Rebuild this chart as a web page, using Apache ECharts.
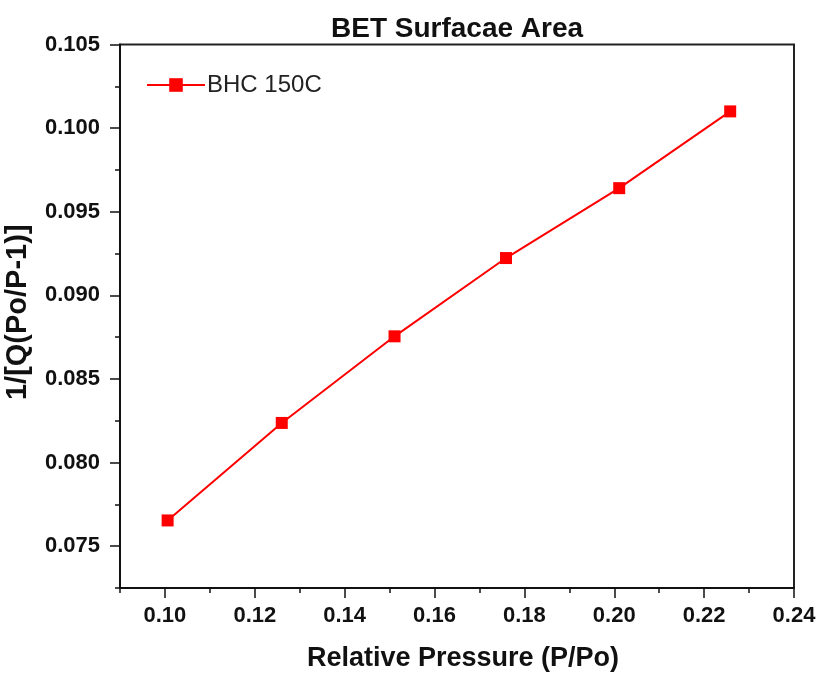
<!DOCTYPE html>
<html>
<head>
<meta charset="utf-8">
<script src="https://cdn.jsdelivr.net/npm/echarts@6/dist/echarts.min.js"></script>
<style>
  html, body { margin: 0; padding: 0; background: #fff; }
  #chart { width: 821px; height: 679px; }
</style>
</head>
<body>
<div id="chart"></div>
<script>
// values
const seriesName = 'BHC 150C'
const pressure = [0.1006, 0.1260, 0.1511, 0.1759, 0.2011, 0.2258]
const invQ = [0.07654, 0.08237, 0.08755, 0.09223, 0.09641, 0.1010]

// tick positions
const xMajor = [0.10, 0.12, 0.14, 0.16, 0.18, 0.20, 0.22, 0.24]
const xMinor = [0.09, 0.11, 0.13, 0.15, 0.17, 0.19, 0.21, 0.23]
const yMajor = [0.075, 0.080, 0.085, 0.090, 0.095, 0.100, 0.105]
const yMinor = [0.0725, 0.0775, 0.0825, 0.0875, 0.0925, 0.0975, 0.1025]

const font = 'Liberation Sans, Arial, sans-serif'
const ink = '#111'
const red = '#ff0000'

const chart = echarts.init(document.getElementById('chart'))

const minorAxis = (type, min, max, ticks) => ({
  type: 'value',
  gridIndex: 0,
  min: min,
  max: max,
  position: type === 'x' ? 'bottom' : 'left',
  axisLine: { show: false },
  axisLabel: { show: false },
  splitLine: { show: false },
  axisTick: {
    show: true,
    inside: false,
    length: 5,
    customValues: ticks,
    lineStyle: { color: ink, width: 1.5 }
  }
})

chart.setOption({
  animation: false,
  backgroundColor: '#fff',
  title: {
    text: 'BET Surfacae Area',
    left: 326,
    top: 10,
    textStyle: { fontFamily: font, fontSize: 28, fontWeight: 'bold', color: ink }
  },
  legend: {
    left: 141,
    top: 68,
    itemWidth: 58,
    itemHeight: 17,
    textStyle: { fontFamily: font, fontSize: 24, color: '#222', padding: [0, 0, 0, -3] },
    data: [seriesName]
  },
  grid: {
    left: 120,
    right: 27,
    top: 44.5,
    bottom: 91,
    show: true,
    borderColor: '#222',
    borderWidth: 2,
    outerBoundsMode: 'none'
  },
  xAxis: [
    {
      type: 'value',
      min: 0.09,
      max: 0.24,
      name: 'Relative Pressure (P/Po)',
      nameLocation: 'middle',
      nameGap: 57,
      nameTextStyle: { fontFamily: font, fontSize: 27, fontWeight: 'bold', color: ink, padding: [0, 0, 0, 12] },
      axisLine: { show: true, lineStyle: { color: ink, width: 2 } },
      axisTick: {
        show: true,
        length: 10,
        customValues: xMajor,
        lineStyle: { color: ink, width: 1.5 }
      },
      axisLabel: {
        customValues: xMajor,
        margin: 17,
        fontFamily: font,
        fontSize: 22,
        fontWeight: 'bold',
        color: ink,
        formatter: v => v.toFixed(2)
      },
      splitLine: { show: false }
    },
    minorAxis('x', 0.09, 0.24, xMinor)
  ],
  yAxis: [
    {
      type: 'value',
      min: 0.0725,
      max: 0.105,
      name: '1/[Q(Po/P-1)]',
      nameLocation: 'middle',
      nameGap: 88,
      nameTextStyle: { fontFamily: font, fontSize: 29, fontWeight: 'bold', color: ink, padding: [0, 0, 0, 8] },
      axisLine: { show: true, lineStyle: { color: ink, width: 2 } },
      axisTick: {
        show: true,
        length: 10,
        customValues: yMajor,
        lineStyle: { color: ink, width: 1.5 }
      },
      axisLabel: {
        customValues: yMajor,
        margin: 20,
        fontFamily: font,
        fontSize: 22,
        fontWeight: 'bold',
        color: ink,
        formatter: v => v.toFixed(3)
      },
      splitLine: { show: false }
    },
    minorAxis('y', 0.0725, 0.105, yMinor)
  ],
  series: [
    {
      name: seriesName,
      type: 'line',
      xAxisIndex: 0,
      yAxisIndex: 0,
      data: pressure.map((p, i) => [p, invQ[i]]),
      symbol: 'rect',
      symbolSize: 12,
      itemStyle: { color: red },
      lineStyle: { color: red, width: 2 }
    }
  ]
})
</script>
</body>
</html>
